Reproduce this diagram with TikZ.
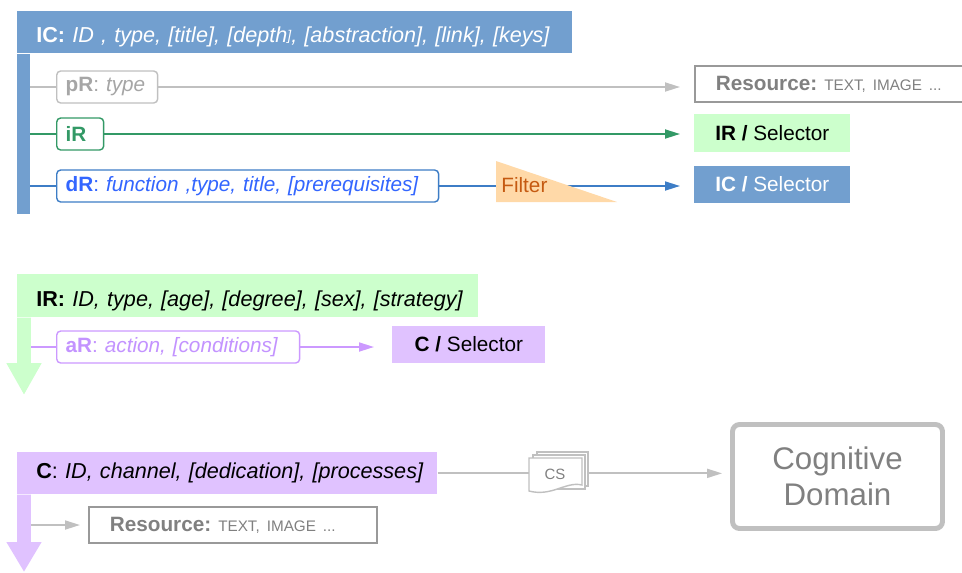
\documentclass[tikz,border=0pt]{standalone}
\usepackage{fontspec}
\setmainfont{Liberation Sans}
\usetikzlibrary{arrows.meta}
\frenchspacing

\begin{document}
\begin{tikzpicture}[x=0.02cm,y=-0.02cm,
    txt/.style={font=\fontsize{11.8}{14}\selectfont},
    header/.style={font=\fontsize{12.3}{14}\selectfont,anchor=north west,inner xsep=0.38cm,inner ysep=0pt,minimum height=0.84cm,align=left},
    relbox/.style={txt,draw,fill=white,rounded corners=0.08cm,line width=0.8pt,anchor=west,inner xsep=0.18cm,inner ysep=0pt,minimum height=0.64cm,align=left},
    selbox/.style={txt,anchor=west,inner sep=0pt,minimum width=3.12cm,minimum height=0.75cm},
    resbox/.style={txt,draw=boxgray,line width=1pt,anchor=west,inner xsep=0.42cm,inner ysep=0pt,minimum height=0.72cm,align=left,text=resgray},
    wire/.style={line width=1pt},
    linkarrow/.style={wire,-{Triangle[length=0.3cm,width=0.18cm]}},
    bigarrow/.style={line width=0.28cm,-{Triangle[length=0.64cm,width=0.66cm]}}]
	\definecolor{icblue}{HTML}{729FCF}
	\definecolor{irgreen}{HTML}{CCFFCC}
	\definecolor{clilac}{HTML}{E0C2FF}
	\definecolor{linegray}{HTML}{C0C0C0}
	\definecolor{textgray}{HTML}{A6A6A6}
	\definecolor{boxgray}{HTML}{999999}
	\definecolor{resgray}{HTML}{808080}
	\definecolor{irline}{HTML}{339966}
	\definecolor{drline}{HTML}{3D7DC6}
	\definecolor{drtext}{HTML}{3366FF}
	\definecolor{arline}{HTML}{CC99FF}
	\definecolor{artext}{HTML}{C393FF}
	\definecolor{filterfill}{HTML}{FFD9A8}
	\definecolor{filtertext}{HTML}{C55A11}
	\useasboundingbox (0,0) rectangle (962,572);
	\clip (0,0) rectangle (962,572);

	\node[header,fill=icblue,text=white,text width=10.34cm,text height=0.52cm,text depth=0.1cm] (IC) at (17,11) {\mbox{\textbf{IC:} \textit{ID , type, [title], [depth\raisebox{1.2pt}{\fontsize{8}{10}\selectfont]}, [abstraction], [link], [keys]}}};
	\fill[icblue] (IC.south west) rectangle (30,214);
	\coordinate (ICbar) at (30,53);

	\node[resbox,text width=5.16cm] (res1) at (694,84) {\textbf{Resource:}\hspace{0.14cm}{\fontsize{8.7}{10}\selectfont TEXT, IMAGE ...}};
	\node[selbox,fill=irgreen,minimum height=0.76cm] (irsel) at (694,133) {\textbf{IR /} Selector};
	\node[selbox,fill=icblue,text=white,minimum height=0.74cm] (icsel) at (694,184.5) {\textbf{IC /} Selector};

	\node[relbox,draw=linegray,text=textgray,text width=1.66cm] (pR) at (56,87) {\textbf{pR}: \textit{type}};
	\draw[wire,linegray] (ICbar |- pR.west) -- (pR.west);
	\draw[linkarrow,linegray,shorten >=0.28cm] (pR.east) -- (pR.east -| res1.west);

	\node[relbox,draw=irline,text=irline,text width=0.58cm] (iR) at (56,134) {\textbf{iR}};
	\draw[wire,irline] (ICbar |- iR.west) -- (iR.west);
	\draw[linkarrow,irline,shorten >=0.28cm] (iR.east) -- (iR.east -| irsel.west);

	\node[relbox,draw=drline,text=drtext,text width=7.28cm] (dR) at (56,186) {\mbox{\textbf{dR}: \textit{function ,type, title, [prerequisites]}}};
	\draw[wire,drline] (ICbar |- dR.west) -- (dR.west);
	\draw[linkarrow,drline,shorten >=0.28cm] (dR.east) -- (dR.east -| icsel.west);
	\fill[filterfill] (496,161) -- (496,202) -- (617,202) -- cycle;
	\node[txt,text=filtertext,anchor=west,inner sep=0pt] (filter) at (501,185) {Filter};

	\node[header,fill=irgreen,text width=8.46cm,text height=0.52cm,text depth=0.1cm,minimum height=0.86cm] (IR) at (17,274) {\mbox{\textbf{IR:} \textit{ID, type, [age], [degree], [sex], [strategy]}}};
	\draw[bigarrow,irgreen] ([xshift=0.14cm]IR.south west) -- (24,395);
	\coordinate (IRbar) at (31,317);
	\node[selbox,fill=clilac,minimum width=3.06cm,minimum height=0.74cm] (csel) at (392,344.5) {\textbf{C /} Selector};
	\node[relbox,draw=arline,text=artext,text width=4.5cm] (aR) at (56,347) {\mbox{\textbf{aR}: \textit{action, [conditions]}}};
	\draw[wire,arline] (IRbar |- aR.west) -- (aR.west);
	\draw[linkarrow,arline,shorten >=0.36cm] (aR.east) -- (aR.east -| csel.west);

	\node[header,fill=clilac,text width=7.64cm] (C) at (17,452) {\mbox{\textbf{C}: \textit{ID, channel, [dedication], [processes]}}};
	\draw[bigarrow,clilac,-{Triangle[length=0.6cm,width=0.66cm]}] ([xshift=0.14cm]C.south west) -- (24,572);
	\coordinate (Cbar) at (31,494);
	\node[resbox,text width=4.92cm] (res2) at (88,525) {\textbf{Resource:}\hspace{0.14cm}{\fontsize{8.7}{10}\selectfont TEXT, IMAGE ...}};
	\draw[linkarrow,linegray,shorten >=0.16cm] (Cbar |- res2.west) -- (res2.west);

	\node[draw=linegray,line width=2.8pt,rounded corners=0.14cm,minimum width=4.2cm,minimum height=2.08cm,text=resgray,font=\fontsize{17.8}{20.4}\selectfont,align=center] (cog) at (837.5,476.5) {Cognitive\\Domain};
	\draw[linkarrow,linegray,shorten >=0.16cm] (C.east) -- (C.east -| cog.west);
	\coordinate (cs) at (555,474);
	\draw[linegray,line width=0.8pt,fill=white] (537,452) rectangle (588,486);
	\draw[linegray,line width=0.8pt,fill=white] (533,455) rectangle (585,489);
	\draw[linegray,line width=0.8pt,fill=white] (529,458) -- (582,458) -- (582,485) .. controls (566,481) and (552,497) .. (529,491) -- cycle;
	\node[text=resgray,font=\fontsize{8.5}{10}\selectfont,inner sep=0pt] (CS) at (cs) {CS};
\end{tikzpicture}
\end{document}
